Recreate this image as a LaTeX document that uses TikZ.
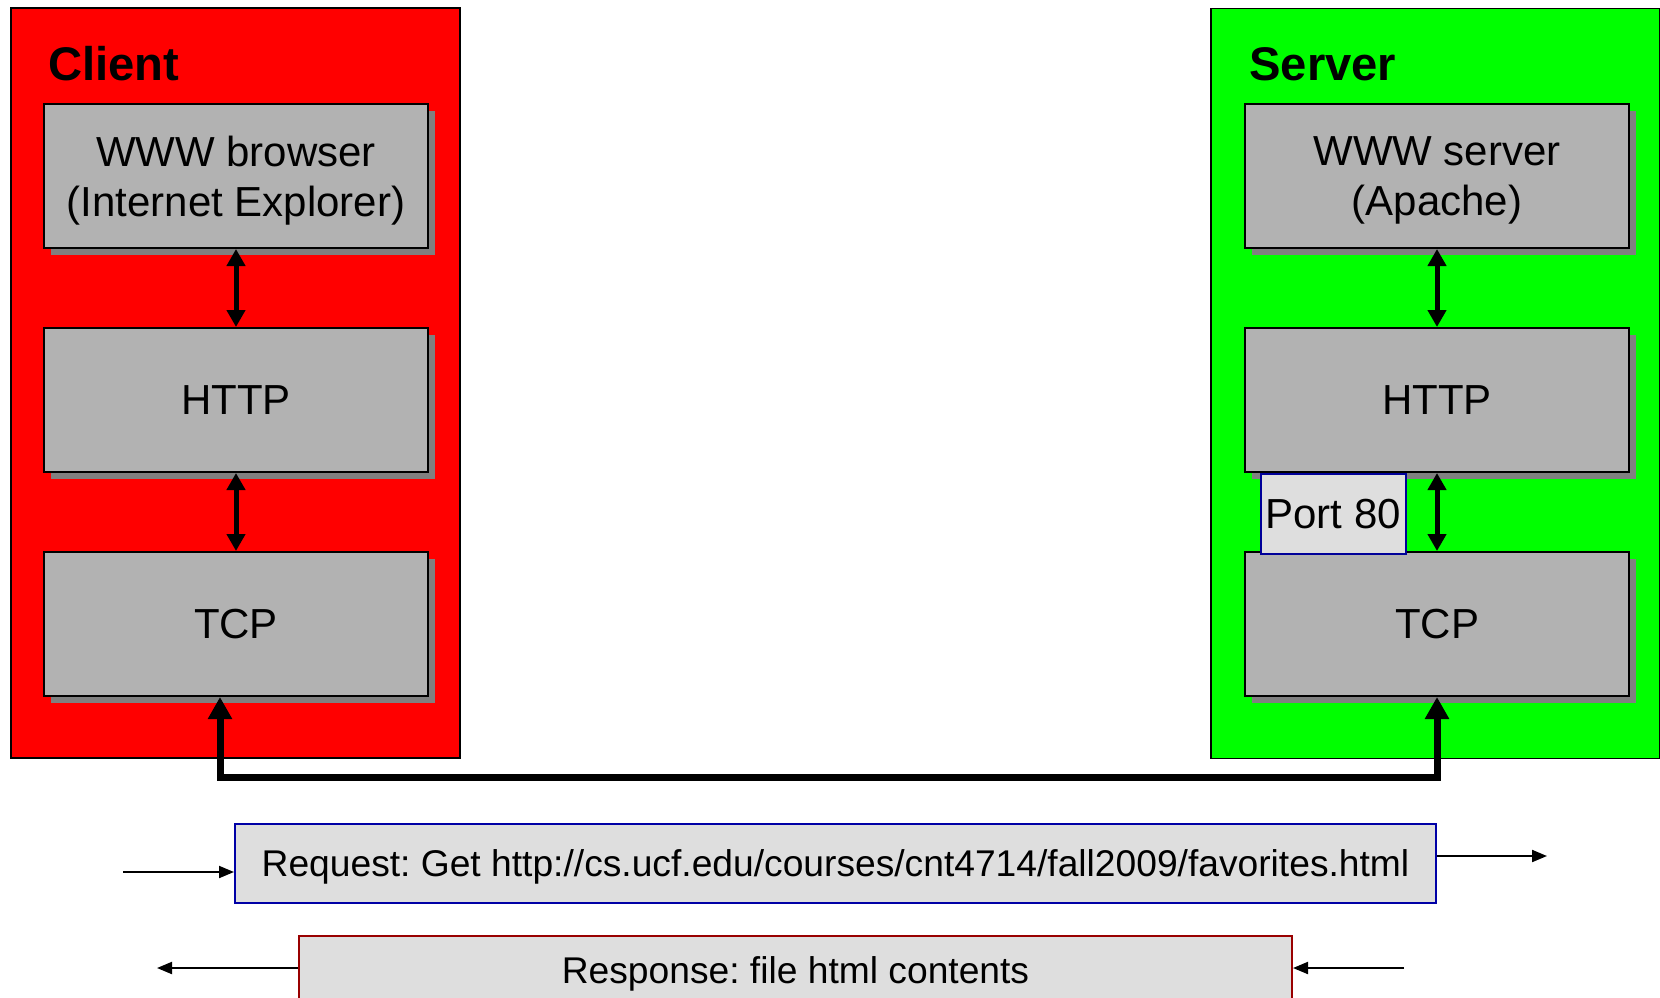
\documentclass[tikz,border=0pt]{standalone}
\usepackage{fontspec}
\setmainfont{Liberation Sans}
\usetikzlibrary{positioning,arrows.meta,shadows}
\frenchspacing

\begin{document}
\begin{tikzpicture}[x=0.5pt, y=-0.5pt, node distance=39pt,
    host/.style = {draw, line width=0.8pt, minimum width=224.5pt, minimum height=375pt, inner sep=0pt},
    title/.style = {anchor=base west, inner sep=0pt, font=\fontsize{23.6}{26}\selectfont\bfseries},
    layer/.style = {draw, line width=1pt, fill=black!30, minimum width=192pt, minimum height=72pt, align=center,
        font=\fontsize{21}{25}\selectfont, drop shadow={shadow xshift=3.5pt, shadow yshift=-3.5pt, fill=black!50, opacity=1}},
    twoline/.style = {text depth=-1pt},
    port/.style = {draw=blue!60!black, line width=0.8pt, fill=black!13, minimum width=72.5pt, minimum height=40pt,
        inner sep=1pt, font=\fontsize{21}{25}\selectfont},
    msgbox/.style = {draw, line width=1pt, fill=black!13, minimum height=39.5pt, text depth=0pt,
        font=\fontsize{18.6}{22}\selectfont},
    updown/.style = {{Triangle[length=8.5pt, width=9pt]}-{Triangle[length=8.5pt, width=9pt]}, line width=2.5pt},
    wire/.style = {{Triangle[length=11pt, width=11.5pt]}-{Triangle[length=11pt, width=11.5pt]}, line width=3.5pt},
    msg/.style = {-{Triangle[length=7.5pt, width=6pt]}, line width=1pt}]
    \clip (0,0) rectangle (1660,997);
    % hosts
    \node[host, fill=red] (client) at (235.5,383) {};
    \node[host, fill=green] (server) at (1435.5,383.5) {};
    \node[title] (ctitle) at (48,80) {Client};
    \node[title] (stitle) at (1249,80) {Server};
    % protocol stacks
    \node[layer, twoline] (cbrowser) at (236,176) {WWW browser\\(Internet Explorer)};
    \node[layer] (chttp) [below=of cbrowser] {HTTP};
    \node[layer] (ctcp) [below=of chttp] {TCP};
    \node[layer, twoline] (sbrowser) [right=407.5pt of cbrowser] {WWW server\\(Apache)};
    \node[layer] (shttp) [below=of sbrowser] {HTTP};
    \node[layer] (stcp) [below=of shttp] {TCP};
    \node[port, anchor=north west] (port) at ([xshift=8pt]shttp.south west) {Port 80};
    \draw[updown] (cbrowser) -- (chttp);
    \draw[updown] (chttp) -- (ctcp);
    \draw[updown] (sbrowser) -- (shttp);
    \draw[updown] (shttp) -- (stcp);
    \draw[wire] ([xshift=-8pt]ctcp.south) -- ++(0,80) -| (stcp.south);
    % messages
    \node[msgbox, draw=blue!65!black, minimum width=600.5pt] (request) at (835.5,863.5)
        {Request: Get http://cs.ucf.edu/courses/cnt4714/fall2009/favorites.html};
    \node[msgbox, draw=red!60!black, minimum width=496.5pt, text depth=4.5pt] (response) at (795.5,975)
        {Response: file html contents};
    \coordinate (reqin) at (123,872);
    \coordinate (reqout) at (1547,856);
    \coordinate (resin) at (1404,968);
    \coordinate (resout) at (157,968);
    \draw[msg] (reqin) -- (reqin -| request.west);
    \draw[msg] (reqout -| request.east) -- (reqout);
    \draw[msg] (resin) -- (resin -| response.east);
    \draw[msg] (resout -| response.west) -- (resout);
\end{tikzpicture}
\end{document}
